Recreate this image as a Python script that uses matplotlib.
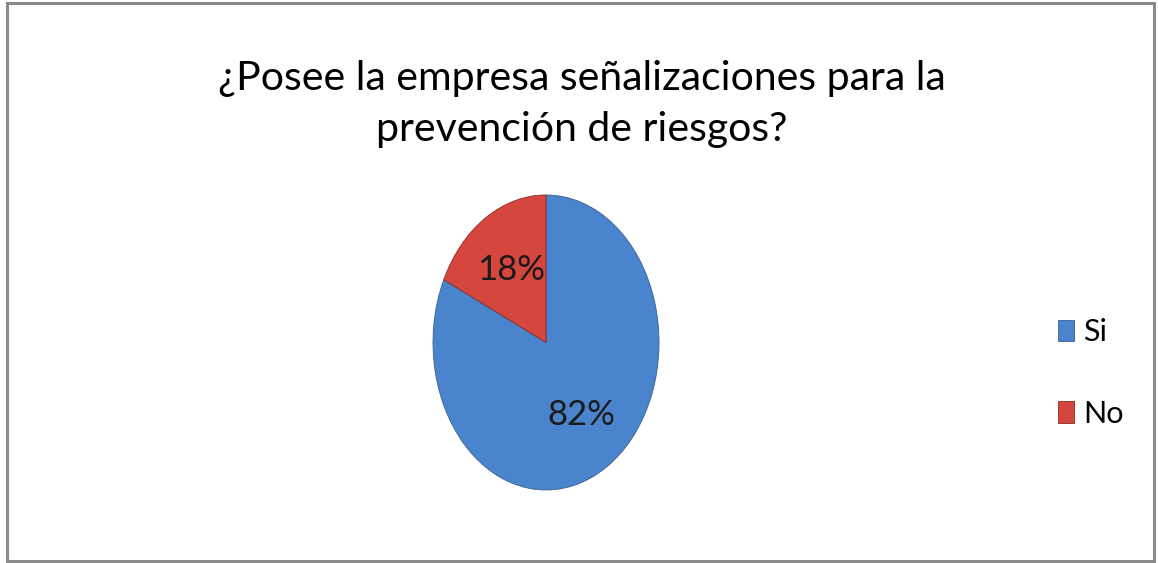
import matplotlib.pyplot as plt
from matplotlib.patches import Rectangle

# data
categories = ["Si", "No"]
values = [82, 18]
colors = ["#4A84CC", "#D4463E"]
title = "¿Posee la empresa señalizaciones para la\nprevención de riesgos?"

W, H = 1158, 563
fig = plt.figure(figsize=(W / 100, H / 100), dpi=100)
fig.patch.set_facecolor("white")

font = ["Lato", "Open Sans", "DejaVu Sans"]

# outer frame
fig.patches.append(Rectangle((7 / W, 2 / H), 1147 / W, 558 / H, transform=fig.transFigure,
                             fill=False, edgecolor="#8a8a8a", linewidth=2.2))

fig.text(582 / W, 1 - 104 / H, title, ha="center", va="center", fontsize=29.5,
         family=font, linespacing=1.48, color="black")

# pie (stretched vertically like the original)
ax = fig.add_axes([433 / W, 1 - 490 / H, 226 / W, 295 / H])
wedges, texts, autotexts = ax.pie(values, colors=colors, startangle=90, counterclock=False,
                                  autopct="%1.0f%%", pctdistance=0.58,
                                  wedgeprops=dict(edgecolor="#3a5f90", linewidth=0.6),
                                  textprops=dict(fontsize=25, family=font, color="#1a1a1a"))
wedges[1].set_edgecolor("#8a2a26")
ax.set_aspect("auto")
ax.set_xlim(-1, 1)
ax.set_ylim(-1, 1)

leg = fig.legend(wedges, categories, loc="center left", bbox_to_anchor=(1030 / W, 1 - 373 / H),
                 frameon=False, prop=dict(family=font, size=22), handlelength=0.55,
                 handleheight=0.7, handletextpad=0.3, labelspacing=1.75)

fig.savefig("out.png", dpi=100)
